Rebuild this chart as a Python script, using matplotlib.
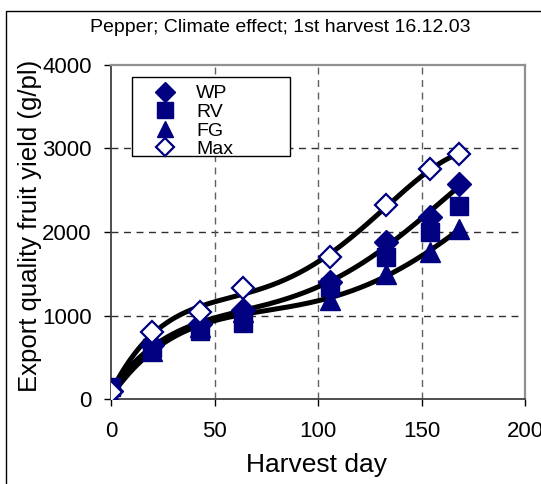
import numpy as np
import matplotlib
matplotlib.use("Agg")
import matplotlib.pyplot as plt
from matplotlib.patches import Rectangle

plt.rcParams['font.family'] = ['Liberation Sans', 'DejaVu Sans']

days = [0, 20, 43, 64, 106, 133, 154, 168]
wp = [100, 650, 900, 1060, 1400, 1880, 2180, 2570]
rv = [140, 610, 810, 910, 1340, 1700, 2000, 2310]
fg = [30, 580, 860, 1040, 1190, 1500, 1760, 2030]
mx = [80, 800, 1040, 1330, 1700, 2320, 2750, 2930]

title = "Pepper; Climate effect; 1st harvest 16.12.03"
xlabel = "Harvest day"
ylabel = "Export quality fruit yield (g/pl)"
xticks = [0, 50, 100, 150, 200]
yticks = [0, 1000, 2000, 3000, 4000]

navy = '#000080'
W, H = 541, 484
fig = plt.figure(figsize=(W / 100, H / 100), dpi=100)
fig.patches.append(Rectangle((6 / W, -0.1), 1.2, 1 - 11 / H + 0.1, transform=fig.transFigure,
                             fill=False, edgecolor='black', linewidth=1.0))
L, R, T, B = 111, 525, 65, 399
ax = fig.add_axes([L / W, 1 - B / H, (R - L) / W, (B - T) / H])

# trendlines (polynomial fits of the data)
xs = np.linspace(0, 168, 300)
for series in (mx, wp, fg):
    c = np.polyfit(days, series, 4)
    ax.plot(xs, np.polyval(c, xs), color='black', linewidth=3.6, zorder=2, solid_capstyle='round')

ax.plot(days, wp, linestyle='none', marker='D', markersize=12, color=navy, label='WP', zorder=3)
ax.plot(days, rv, linestyle='none', marker='s', markersize=13, color=navy, label='RV', zorder=3)
ax.plot(days, fg, linestyle='none', marker='^', markersize=14, color=navy, label='FG', zorder=3)
ax.plot(days, mx, linestyle='none', marker='D', markersize=11, markerfacecolor='white',
        markeredgecolor=navy, markeredgewidth=1.6, label='Max', zorder=4)

ax.set_xlim(0, 200)
ax.set_ylim(0, 4000)
ax.set_xticks(xticks)
ax.set_yticks(yticks)
ax.tick_params(axis='both', labelsize=16, direction='out', length=5, width=1, colors='black')
ax.tick_params(axis='x', pad=11)
ax.tick_params(axis='y', pad=9)

for v in [1000, 2000, 3000]:
    ax.axhline(v, color='#303030', linestyle=(0, (5, 4)), linewidth=1.0, zorder=1)
for v in [50, 100, 150]:
    ax.axvline(v, color='#606060', linestyle=(0, (5, 4)), linewidth=1.0, zorder=1)

for s in ['left', 'bottom']:
    ax.spines[s].set_color('#404040')
    ax.spines[s].set_linewidth(1.3)
for s in ['top', 'right']:
    ax.spines[s].set_color('#909090')
    ax.spines[s].set_linewidth(1.6)

ax.set_xlabel(xlabel, fontsize=19)
ax.xaxis.set_label_coords((317 - L) / (R - L), (B - 465) / (B - T))
ax.xaxis.label.set_va('center')
ax.set_ylabel(ylabel, fontsize=18.5)
ax.yaxis.set_label_coords((30 - L) / (R - L), (B - 226) / (B - T))
ax.yaxis.label.set_va('center')
fig.text(280 / W, 1 - 28 / H, title, ha='center', va='center', fontsize=14)

# legend frame and entries
lx0, ly0, lx1, ly1 = 132, 77, 290, 156
ax.add_patch(Rectangle(((lx0 - L) / (R - L), (B - ly1) / (B - T)), (lx1 - lx0) / (R - L),
                       (ly1 - ly0) / (B - T), transform=ax.transAxes, facecolor='white',
                       edgecolor='black', linewidth=1.0, zorder=5))
leg = ax.legend(loc='upper left', bbox_to_anchor=((lx0 - L) / (R - L), (B - ly0 - 3) / (B - T)),
                frameon=False, fontsize=14, handletextpad=0.15, borderpad=0.25, labelspacing=0.05,
                borderaxespad=0, handlelength=2.9, markerscale=0.85)
leg.set_zorder(6)

fig.savefig('out.png', dpi=100)
